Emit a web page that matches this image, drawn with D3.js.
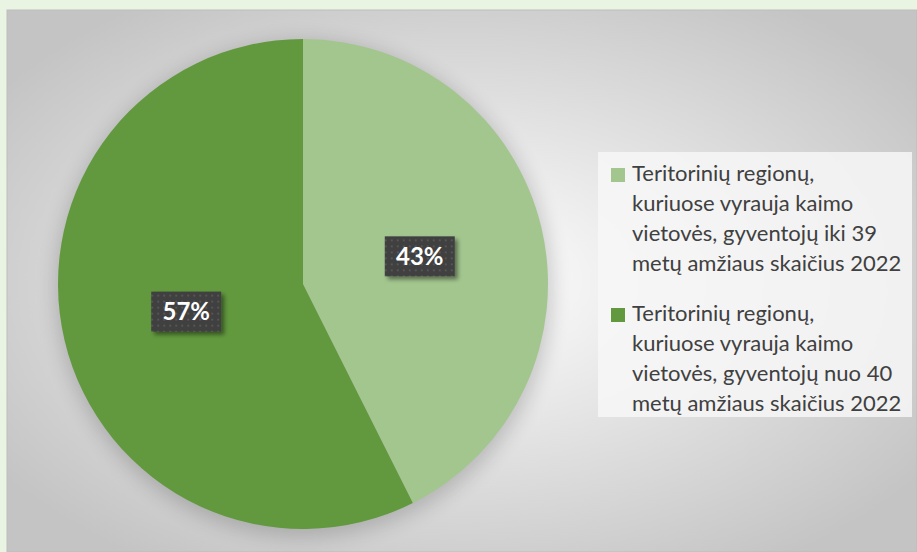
<!DOCTYPE html>
<html>
<head>
<meta charset="utf-8">
<script src="https://cdn.jsdelivr.net/npm/d3@7"></script>
<style>
  body { margin: 0; background: #e9f5e2; }
  svg { display: block; }
</style>
</head>
<body>
<svg id="chart" width="917" height="552"></svg>
<script>
var categories = [
  ["Teritorinių regionų,", "kuriuose vyrauja kaimo", "vietovės, gyventojų iki 39", "metų amžiaus skaičius 2022"],
  ["Teritorinių regionų,", "kuriuose vyrauja kaimo", "vietovės, gyventojų nuo 40", "metų amžiaus skaičius 2022"]
];
var values = [42.6, 57.4];
var labels = ["43%", "57%"];
var colors = ["#a3c68f", "#62993e"];

document.addEventListener('DOMContentLoaded', function () {
  drawPie();
});

function drawPie() {
  var svg = d3.select('#chart');
  var defs = svg.append('defs');

  var grad = defs.append('radialGradient').attr('id', 'bg')
    .attr('cx', '50%').attr('cy', '50%').attr('r', '62%');
  grad.append('stop').attr('offset', '0%').attr('stop-color', '#ffffff');
  grad.append('stop').attr('offset', '100%').attr('stop-color', '#c4c4c4');

  var blur = defs.append('filter').attr('id', 'pieShadow')
    .attr('x', '-30%').attr('y', '-30%').attr('width', '160%').attr('height', '160%');
  blur.append('feGaussianBlur').attr('stdDeviation', 10);

  var lblShadow = defs.append('filter').attr('id', 'lblShadow')
    .attr('x', '-30%').attr('y', '-30%').attr('width', '160%').attr('height', '160%');
  lblShadow.append('feDropShadow').attr('dx', 3).attr('dy', 3)
    .attr('stdDeviation', 2).attr('flood-color', '#000').attr('flood-opacity', 0.45);

  var pat = defs.append('pattern').attr('id', 'dots')
    .attr('width', 6).attr('height', 6).attr('patternUnits', 'userSpaceOnUse');
  pat.append('rect').attr('width', 6).attr('height', 6).attr('fill', '#3f3f3f');
  pat.append('rect').attr('x', 1).attr('y', 1).attr('width', 2).attr('height', 2).attr('fill', '#565656');

  // plot area
  svg.append('rect')
    .attr('x', 7).attr('y', 10)
    .attr('width', 917 - 7).attr('height', 552 - 10)
    .attr('fill', 'url(#bg)')
    .attr('stroke', '#bdbdbd').attr('stroke-width', 1);

  var cx = 303, cy = 284, radius = 245;

  var pie = d3.pie().sort(null).value(function (d) { return d; });
  var arcs = pie(values);
  var arc = d3.arc().innerRadius(0).outerRadius(radius);

  var g = svg.append('g').attr('transform', 'translate(' + cx + ',' + cy + ')');

  g.append('circle').attr('r', radius + 3).attr('cx', 1).attr('cy', 5)
    .attr('fill', '#000').attr('opacity', 0.18)
    .attr('filter', 'url(#pieShadow)');

  g.selectAll('path.slice')
    .data(arcs)
    .enter()
    .append('path')
    .attr('class', 'slice')
    .attr('d', arc)
    .attr('fill', function (d, i) { return colors[i]; });

  // data labels
  var lblArc = d3.arc().innerRadius(120).outerRadius(120);
  var lbl = g.selectAll('g.lbl')
    .data(arcs)
    .enter()
    .append('g')
    .attr('class', 'lbl')
    .attr('transform', function (d) {
      var c = lblArc.centroid(d);
      return 'translate(' + c[0] + ',' + c[1] + ')';
    });
  lbl.append('rect')
    .attr('x', -35).attr('y', -20).attr('width', 70).attr('height', 40)
    .attr('fill', 'url(#dots)')
    .attr('filter', 'url(#lblShadow)');
  lbl.append('text')
    .attr('text-anchor', 'middle')
    .attr('dy', '0.36em')
    .style('font-family', 'Lato, sans-serif')
    .style('font-weight', 'bold')
    .style('font-size', '24px')
    .style('fill', '#ffffff')
    .text(function (d, i) { return labels[i]; });

  // legend
  svg.append('rect')
    .attr('x', 598).attr('y', 152).attr('width', 314).attr('height', 265)
    .attr('fill', '#f7f7f7').attr('opacity', 0.85);

  var lineH = 30;
  var leg = svg.selectAll('g.leg')
    .data(categories)
    .enter()
    .append('g')
    .attr('class', 'leg')
    .attr('transform', function (d, i) { return 'translate(611,' + (173 + i * 140) + ')'; });
  leg.append('rect')
    .attr('x', 0).attr('y', -5).attr('width', 14).attr('height', 14)
    .attr('fill', function (d, i) { return colors[i]; });
  leg.each(function (lines) {
    var t = d3.select(this).append('text')
      .style('font-family', 'Lato, sans-serif')
      .style('font-size', '22px')
      .style('fill', '#404040');
    lines.forEach(function (ln, j) {
      t.append('tspan').attr('x', 21).attr('y', j * lineH).attr('dy', '0.35em').text(ln);
    });
  });
}
</script>
</body>
</html>
